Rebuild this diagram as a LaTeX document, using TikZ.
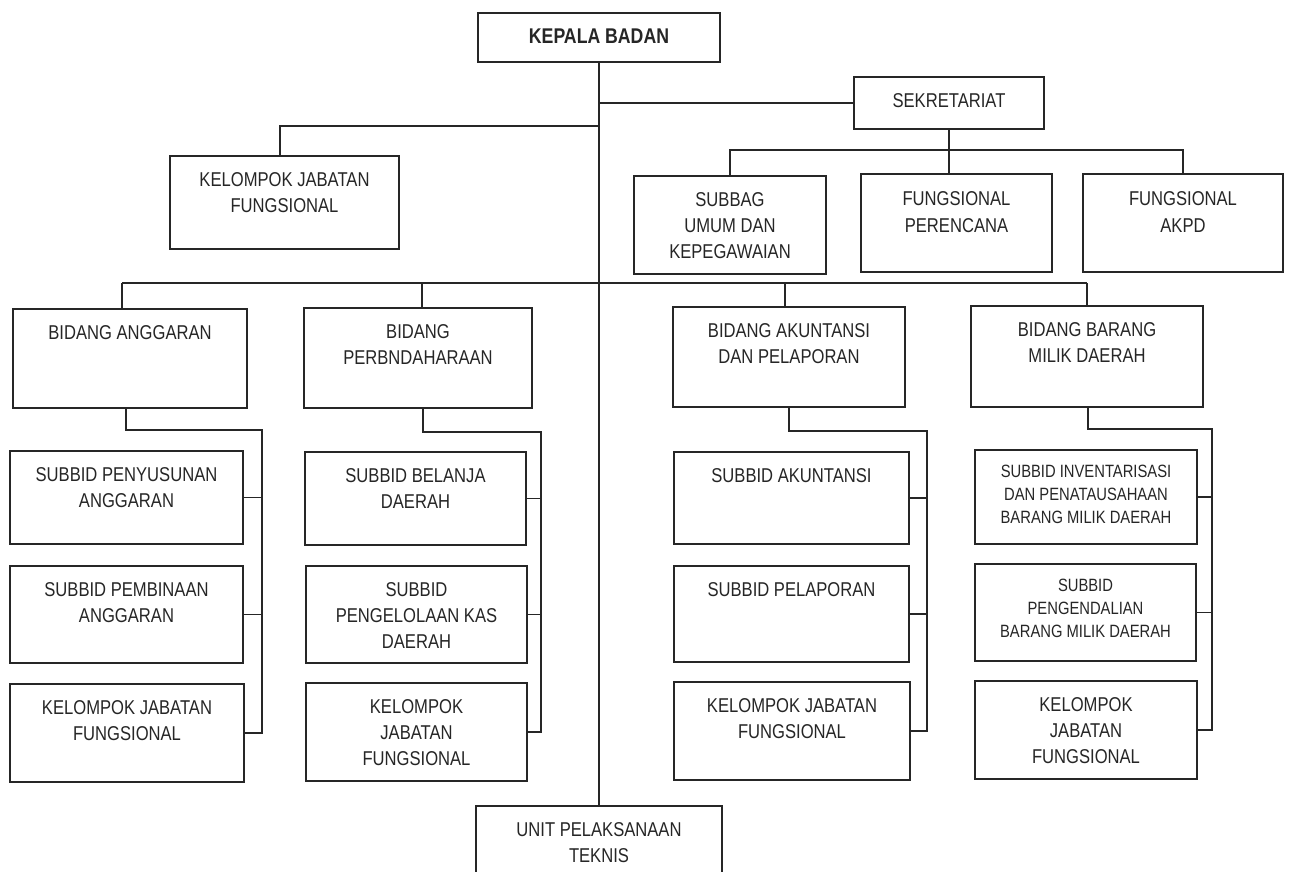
\documentclass[tikz,border=0pt]{standalone}
\usepackage{fontspec}
\setmainfont{Liberation Sans}[FakeStretch=0.83]
\definecolor{ink}{HTML}{262626}
\newcommand\bodyfont{\fontsize{20}{26.3}\selectfont\def\padamt{16.4pt}}
\newcommand\bigfont{\fontsize{21.3}{26.3}\selectfont\def\padamt{16.2pt}}
\newcommand\smallfont{\fontsize{17.8}{23}\selectfont\def\padamt{14.6pt}}
\newcommand\obox[7][\bodyfont]{%
  \node[box] (#2) at ({(#3+#5)/2},{(#4+#6)/2})
    {\parbox[c][\dimexpr #6pt-#4pt\relax][t]{\dimexpr #5pt-#3pt\relax}{\centering#1\vspace*{\padamt}#7}};}
\tikzset{
  box/.style={draw=ink, line width=1.7pt, inner sep=0pt, outer sep=0pt, text=ink, fill=white},
  conn/.style={draw=ink, line width=1.4pt}
}
\begin{document}
\begin{tikzpicture}[x=1pt,y=-1pt]
\useasboundingbox (0,0) rectangle (1290,871);
% boxes
\obox[\bfseries\bigfont]{kepala}{478}{13}{720}{62}{KEPALA BADAN}
\obox{sek}{854}{77}{1044}{129}{SEKRETARIAT}
\obox{kjf0}{170}{156}{399}{249}{KELOMPOK JABATAN\\FUNGSIONAL}
\obox{subbag}{634}{176}{826}{274}{SUBBAG\\UMUM DAN\\KEPEGAWAIAN}
\obox{fper}{861}{174}{1052}{272}{\vspace*{1.5pt}FUNGSIONAL\\PERENCANA}
\obox{fakpd}{1083}{174}{1283}{272}{\vspace*{1.5pt}FUNGSIONAL\\AKPD}
\obox{bang}{13}{309}{247}{408}{BIDANG ANGGARAN}
\obox{bper}{304}{308}{532}{408}{BIDANG\\PERBNDAHARAAN}
\obox{bak}{673}{307}{905}{407}{BIDANG AKUNTANSI\\DAN PELAPORAN}
\obox{bbar}{971}{306}{1203}{407}{BIDANG BARANG\\MILIK DAERAH}
\obox{spen}{10}{451}{243}{544}{SUBBID PENYUSUNAN\\ANGGARAN}
\obox{sbel}{305}{452}{526}{545}{SUBBID BELANJA\\DAERAH}
\obox{sakun}{674}{452}{909}{544}{SUBBID AKUNTANSI}
\obox[\smallfont]{sinv}{975}{450}{1197}{544}{SUBBID INVENTARISASI\\DAN PENATAUSAHAAN\\BARANG MILIK DAERAH}
\obox{spemb}{10}{566}{243}{663}{SUBBID PEMBINAAN\\ANGGARAN}
\obox{skas}{306}{566}{527}{663}{SUBBID\\PENGELOLAAN KAS\\DAERAH}
\obox{splap}{674}{566}{909}{662}{SUBBID PELAPORAN}
\obox[\smallfont]{spgd}{975}{564}{1196}{661}{SUBBID\\PENGENDALIAN\\BARANG MILIK DAERAH}
\obox{kjf1}{10}{684}{244}{782}{KELOMPOK JABATAN\\FUNGSIONAL}
\obox{kjf2}{306}{683}{527}{781}{KELOMPOK\\JABATAN\\FUNGSIONAL}
\obox{kjf3}{674}{682}{910}{780}{KELOMPOK JABATAN\\FUNGSIONAL}
\obox{kjf4}{975}{681}{1197}{779}{KELOMPOK\\JABATAN\\FUNGSIONAL}
\obox{unit}{476}{806}{722}{890}{UNIT PELAKSANAAN\\TEKNIS}
% top connectors
\draw[conn] (kepala.south) -- (kepala.south |- unit.north);
\draw[conn] (kepala.south |- sek.west) -- (sek.west);
\coordinate (kt) at (280,126);
\draw[conn] (kepala.south |- kt) -- (kt) -- (kt |- kjf0.north);
% sekretariat
\coordinate (sb) at (0,150);
\draw[conn] (sek.south) -- (sek.south |- fper.north);
\draw[conn] (subbag.north) -- (subbag.north |- sb) -- (fakpd.north |- sb) -- (fakpd.north);
% main bus
\coordinate (d1) at (122,283);
\coordinate (d2) at (422,283);
\coordinate (d3) at (785,283);
\coordinate (d4) at (1087,283);
\draw[conn] (d1) -- (d4);
\draw[conn] (d1) -- (d1 |- bang.north);
\draw[conn] (d2) -- (d2 |- bper.north);
\draw[conn] (d3) -- (d3 |- bak.north);
\draw[conn] (d4) -- (d4 |- bbar.north);
% anggaran
\coordinate (a1) at (126,430); \coordinate (a2) at (262,430);
\draw[conn] (a1 |- bang.south) -- (a1) -- (a2) -- (a2 |- kjf1.east) -- (kjf1.east);
\draw[conn] (spen.east) -- (spen.east -| a2);
\draw[conn] (spemb.east) -- (spemb.east -| a2);
% perbendaharaan
\coordinate (b1) at (423,432); \coordinate (b2) at (541,432);
\draw[conn] (b1 |- bper.south) -- (b1) -- (b2) -- (b2 |- kjf2.east) -- (kjf2.east);
\draw[conn] (sbel.east) -- (sbel.east -| b2);
\draw[conn] (skas.east) -- (skas.east -| b2);
% akuntansi
\coordinate (c1) at (789,431); \coordinate (c2) at (927,431);
\draw[conn] (c1 |- bak.south) -- (c1) -- (c2) -- (c2 |- kjf3.east) -- (kjf3.east);
\draw[conn] (sakun.east) -- (sakun.east -| c2);
\draw[conn] (splap.east) -- (splap.east -| c2);
% barang
\coordinate (e1) at (1088,429); \coordinate (e2) at (1212,429);
\draw[conn] (e1 |- bbar.south) -- (e1) -- (e2) -- (e2 |- kjf4.east) -- (kjf4.east);
\draw[conn] (sinv.east) -- (sinv.east -| e2);
\draw[conn] (spgd.east) -- (spgd.east -| e2);
\end{tikzpicture}
\end{document}
